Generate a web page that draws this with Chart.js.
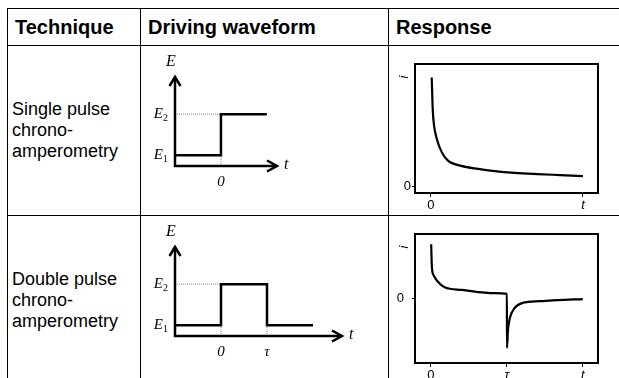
<!DOCTYPE html>
<html lang="en">
<head>
    <meta charset="UTF-8">
    <title>Chronoamperometry</title>
    <script src="https://cdn.jsdelivr.net/npm/chart.js"></script>
    <style>
        body {
            margin: 0;
            background: #fff;
            font-family: "Liberation Sans", Arial, sans-serif;
            overflow: hidden;
        }

        #page {
            position: relative;
            width: 619px;
            height: 378px;
            overflow: hidden;
        }

        .cell {
            position: absolute;
            box-sizing: border-box;
            border-left: 1px solid #000;
            border-top: 1px solid #000;
            display: flex;
            align-items: center;
            color: #000;
        }

        .head { font-size: 20px; font-weight: bold; padding-left: 7px; }
        .name { font-size: 18px; line-height: 21px; padding-left: 4px; }

        .c1 { left: 7px; width: 133px; }
        .c2 { left: 140px; width: 248px; }
        .c3 { left: 388px; width: 240px; }
        .r0 { top: 8px; height: 37px; }
        .r1 { top: 45px; height: 170px; }
        .r2 { top: 215px; height: 170px; }

        canvas { position: absolute; }
        #wave1 { left: 141px; top: 46px; }
        #wave2 { left: 141px; top: 216px; }
        #resp1 { left: 389px; top: 46px; }
        #resp2 { left: 389px; top: 216px; }
    </style>
</head>
<body>
<div id="page">
    <div class="cell head c1 r0">Technique</div>
    <div class="cell head c2 r0">Driving waveform</div>
    <div class="cell head c3 r0">Response</div>

    <div class="cell name c1 r1"><div>Single pulse<br>chrono-<br>amperometry</div></div>
    <div class="cell c2 r1"></div>
    <div class="cell c3 r1"></div>

    <div class="cell name c1 r2"><div>Double pulse<br>chrono-<br>amperometry</div></div>
    <div class="cell c2 r2"></div>
    <div class="cell c3 r2"></div>

    <canvas id="wave1" width="246" height="168"></canvas>
    <canvas id="wave2" width="246" height="168"></canvas>
    <canvas id="resp1" width="230" height="168"></canvas>
    <canvas id="resp2" width="230" height="168"></canvas>
</div>

<script>
    // potential levels of the driving waveforms (tau = 1)
    const E1 = 0.25;
    const E2 = 1.2;
    const waveTicksE = [E1, E2];
    const waveLabelsE = ['E1', 'E2'];   // first letter italic, rest as subscript

    const singleWaveT = [-1, 0, 0, 1];
    const singleWaveE = [E1, E1, E2, E2];
    const singleWaveTicks = [0];
    const singleWaveLabels = ['0'];

    const doubleWaveT = [-1, 0, 0, 1, 1, 2];
    const doubleWaveE = [E1, E1, E2, E2, E1, E1];
    const doubleWaveTicks = [0, 1];
    const doubleWaveLabels = ['0', '\u03c4'];

    // current responses
    const singleRespT = [0.005, 0.012, 0.02, 0.04, 0.07, 0.11, 0.2, 0.31, 0.42, 0.55, 0.7, 0.85, 1.0];
    const singleRespI = [0.89, 0.62, 0.5, 0.38, 0.28, 0.21, 0.165, 0.14, 0.122, 0.108, 0.098, 0.09, 0.082];
    const singleRespTicks = [0, 1];
    const singleRespLabels = ['0', 't'];

    const doubleRespT = [0.003, 0.013, 0.04, 0.08, 0.18, 0.41, 0.84, 1.0, 1.001, 1.015, 1.04, 1.1, 1.21, 1.43, 1.66, 2.0];
    const doubleRespI = [1.01, 0.57, 0.42, 0.33, 0.21, 0.16, 0.1, 0.085, -0.92, -0.58, -0.36, -0.18, -0.08, -0.05, -0.03, -0.01];
    const doubleRespTicks = [0, 1, 2];
    const doubleRespLabels = ['0', '\u03c4', 't'];

    const toPoints = (xs, ys) => xs.map((x, i) => ({ x: x, y: ys[i] }));

    // axis lines with open arrow heads, E / t labels and the E1, E2 ticks
    const arrowAxes = {
        id: 'arrowAxes',
        afterDraw(chart) {
            const { ctx, chartArea: a } = chart;
            ctx.save();
            ctx.strokeStyle = '#000';
            ctx.lineWidth = 2.5;
            ctx.beginPath();
            ctx.moveTo(a.left, a.top);
            ctx.lineTo(a.left, a.bottom);
            ctx.lineTo(a.right, a.bottom);
            ctx.stroke();
            ctx.beginPath();
            ctx.moveTo(a.left - 5.5, a.top + 9);
            ctx.lineTo(a.left, a.top);
            ctx.lineTo(a.left + 5.5, a.top + 9);
            ctx.moveTo(a.right - 10, a.bottom - 5.5);
            ctx.lineTo(a.right, a.bottom);
            ctx.lineTo(a.right - 10, a.bottom + 5.5);
            ctx.stroke();

            ctx.fillStyle = '#000';
            ctx.textBaseline = 'middle';
            ctx.font = 'italic 16px "Liberation Serif"';
            ctx.textAlign = 'center';
            ctx.fillText('E', a.left - 4, a.top - 15);
            ctx.textAlign = 'left';
            ctx.fillText('t', a.right + 7, a.bottom - 1);

            const y = chart.scales.y;
            waveTicksE.forEach((v, i) => {
                const py = y.getPixelForValue(v);
                const lab = waveLabelsE[i];
                ctx.textAlign = 'right';
                ctx.font = '10px "Liberation Serif"';
                const subW = ctx.measureText(lab.slice(1)).width;
                ctx.fillText(lab.slice(1), a.left - 7, py + 4);
                ctx.font = 'italic 15px "Liberation Serif"';
                ctx.fillText(lab[0], a.left - 7 - subW, py);
            });
            ctx.restore();
        }
    };

    // rectangle round the plot area and the rotated i label
    const frame = {
        id: 'frame',
        afterDraw(chart) {
            const { ctx, chartArea: a } = chart;
            ctx.save();
            ctx.strokeStyle = '#000';
            ctx.lineWidth = 2;
            ctx.strokeRect(a.left, a.top, a.right - a.left, a.bottom - a.top);
            ctx.translate(a.left - 11, a.top + 13);
            ctx.rotate(-Math.PI / 2);
            ctx.fillStyle = '#000';
            ctx.font = 'italic 13px "Liberation Sans"';
            ctx.textAlign = 'center';
            ctx.textBaseline = 'middle';
            ctx.fillText('i', 0, 0);
            ctx.restore();
        }
    };

    const serif = { family: '"Liberation Serif", "DejaVu Serif", serif', style: 'italic', size: 15 };

    function waveChart(id, ts, es, xMax, xTicks, xLabels, padRight) {
        const guides = [
            { label: 'g', data: [{ x: -1, y: E2 }, { x: xTicks[0], y: E2 }] }
        ];
        xTicks.forEach(v => guides.push({ label: 'g', data: [{ x: v, y: 0 }, { x: v, y: E1 }] }));
        guides.forEach(g => Object.assign(g, {
            borderColor: '#888', borderWidth: 1, borderDash: [1, 1], pointRadius: 0
        }));

        return new Chart(document.getElementById(id), {
            type: 'line',
            data: {
                datasets: [{
                    label: 'E',
                    data: toPoints(ts, es),
                    borderColor: '#000',
                    borderWidth: 2.5,
                    pointRadius: 0,
                    tension: 0
                }].concat(guides)
            },
            options: {
                responsive: false,
                animation: false,
                events: [],
                layout: { padding: { top: 31, right: padRight, left: 0, bottom: 0 } },
                plugins: { legend: { display: false }, tooltip: { enabled: false } },
                scales: {
                    x: {
                        type: 'linear', min: -1, max: xMax,
                        grid: { display: false, drawTicks: false },
                        border: { display: false },
                        afterBuildTicks: s => { s.ticks = xTicks.map(v => ({ value: v })); },
                        afterFit: s => { s.height = 48; },
                        ticks: {
                            autoSkip: false, maxRotation: 0, padding: 7,
                            color: '#000', font: serif,
                            callback: (v, i) => xLabels[i]
                        }
                    },
                    y: {
                        type: 'linear', min: 0, max: 2.06,
                        grid: { display: false, drawTicks: false },
                        border: { display: false },
                        afterFit: s => { s.width = 34; },
                        ticks: { display: false }
                    }
                }
            },
            plugins: [arrowAxes]
        });
    }

    function respChart(id, ts, is, yMin, yMax, xMin, xMax, xTicks, xLabels, yPad) {
        return new Chart(document.getElementById(id), {
            type: 'line',
            data: {
                datasets: [{
                    label: 'i',
                    data: toPoints(ts, is),
                    borderColor: '#000',
                    borderWidth: 2.2,
                    pointRadius: 0,
                    cubicInterpolationMode: 'monotone'
                }]
            },
            options: {
                responsive: false,
                animation: false,
                events: [],
                layout: { padding: { top: 18, right: 21, left: 0, bottom: 0 } },
                plugins: { legend: { display: false }, tooltip: { enabled: false } },
                scales: {
                    x: {
                        type: 'linear', min: xMin, max: xMax,
                        grid: { drawOnChartArea: false, drawTicks: true, tickLength: 4, color: '#000' },
                        border: { display: false },
                        afterBuildTicks: s => { s.ticks = xTicks.map(v => ({ value: v })); },
                        afterFit: s => { s.height = 21; },
                        ticks: {
                            autoSkip: false, maxRotation: 0, padding: 1, color: '#000',
                            font: c => ({
                                family: '"Liberation Sans", Arial, sans-serif', size: 13,
                                style: xLabels[c.index] === '0' ? 'normal' : 'italic'
                            }),
                            callback: (v, i) => xLabels[i]
                        }
                    },
                    y: {
                        type: 'linear', min: yMin, max: yMax,
                        grid: { drawOnChartArea: false, drawTicks: true, tickLength: 3, color: '#000' },
                        border: { display: false },
                        afterBuildTicks: s => { s.ticks = [{ value: 0 }]; },
                        afterFit: s => { s.width = 26; },
                        ticks: {
                            autoSkip: false, padding: yPad, color: '#000',
                            font: { family: '"Liberation Sans", Arial, sans-serif', size: 13 },
                            callback: () => '0'
                        }
                    }
                }
            },
            plugins: [frame]
        });
    }

    waveChart('wave1', singleWaveT, singleWaveE, 1.22, singleWaveTicks, singleWaveLabels, 110);
    waveChart('wave2', doubleWaveT, doubleWaveE, 2.63, doubleWaveTicks, doubleWaveLabels, 45);
    respChart('resp1', singleRespT, singleRespI, -0.057, 1, -0.105, 1.099, singleRespTicks, singleRespLabels, 1);
    respChart('resp2', doubleRespT, doubleRespI, -1.2, 1.2, -0.21, 2.2, doubleRespTicks, doubleRespLabels, 8);
</script>
</body>
</html>
